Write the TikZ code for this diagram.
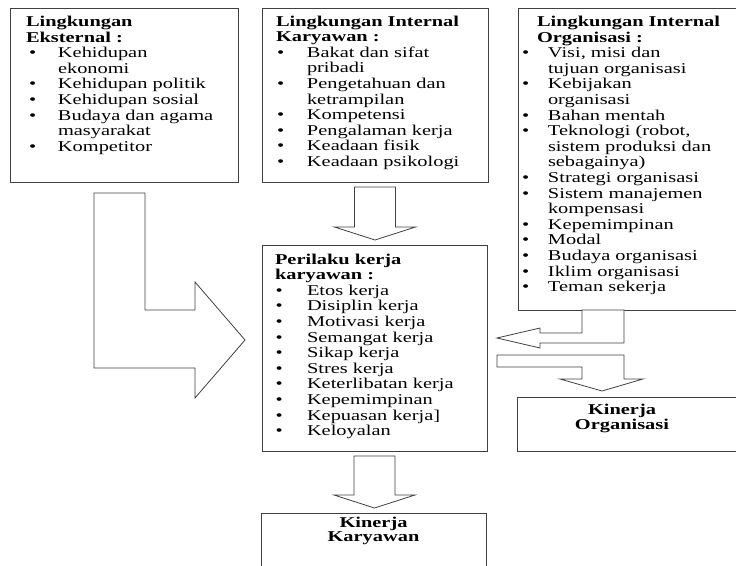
\documentclass[tikz,border=0pt]{standalone}
\usepackage{fontspec}
\setmainfont{Liberation Serif}[FakeStretch=1.36]
\usepackage{tikz}
\usetikzlibrary{positioning,calc}

% jarak judul, titik dan teks butir di dalam kotak
\newlength{\hdx}
\newlength{\bulx}
\newlength{\itx}
\newcommand{\judul}[1]{\mbox{\hspace*{\hdx}\bfseries #1}}
\newcommand{\butir}[1]{\makebox[0pt][l]{\hspace*{\bulx}\textbullet}\mbox{\hspace*{\itx}#1}}
\newcommand{\lanjut}[1]{\mbox{\hspace*{\itx}#1}}
\newcommand{\isikotak}[4][16.5pt]{\begin{minipage}[t][#3][t]{#2}\rule{0pt}{#1}#4\end{minipage}}
% panah blok ke bawah
\newcommand{\panahbawah}[2]{%
  \draw[blokpanah] ($(#1)+(-20.5,5)$) -- ($(#1 |- #2)+(-20.5,-18)$)
    -- ($(#1 |- #2)+(-40.5,-18)$) -- ($(#1 |- #2)+(0,-5)$)
    -- ($(#1 |- #2)+(40.5,-18)$) -- ($(#1 |- #2)+(20.5,-18)$)
    -- ($(#1)+(20.5,5)$) -- cycle;}

\begin{document}
\begin{tikzpicture}[x=1pt,y=-1pt]
        % Style kotak dan panah
        \tikzstyle{kotak} = [
            draw=black!75,
            line width=0.8pt,
            anchor=north west,
            inner sep=0pt,
            outer sep=0pt,
            font=\fontsize{15}{15.6}\selectfont
        ]
        \tikzstyle{blokpanah} = [
            draw=black!75,
            line width=0.8pt,
            fill=white,
            line join=miter
        ]
        \useasboundingbox (0,0) rectangle (736,565);

        % Lingkungan eksternal
        \setlength{\hdx}{16pt}\setlength{\bulx}{19pt}\setlength{\itx}{48pt}
        \node[kotak] (ext) at (10,8) {\isikotak[18.5pt]{228pt}{174pt}{%
            \judul{Lingkungan}\\ \judul{Eksternal :}\\
            \butir{Kehidupan}\\ \lanjut{ekonomi}\\
            \butir{Kehidupan politik}\\
            \butir{Kehidupan sosial}\\
            \butir{Budaya dan agama}\\ \lanjut{masyarakat}\\
            \butir{Kompetitor}}};

        % Lingkungan internal karyawan
        \setlength{\hdx}{14pt}\setlength{\bulx}{15pt}\setlength{\itx}{45pt}
        \node[kotak] (kar) at (262,8) {\isikotak[18pt]{226pt}{174pt}{%
            \judul{Lingkungan Internal}\\ \judul{Karyawan :}\\
            \butir{Bakat dan sifat}\\ \lanjut{pribadi}\\
            \butir{Pengetahuan dan}\\ \lanjut{ketrampilan}\\
            \butir{Kompetensi}\\
            \butir{Pengalaman kerja}\\
            \butir{Keadaan fisik}\\
            \butir{Keadaan psikologi}}};

        % Lingkungan internal organisasi
        \setlength{\hdx}{19pt}\setlength{\bulx}{4pt}\setlength{\itx}{30pt}
        \node[kotak] (org) at (518,8) {\isikotak[18.5pt]{230pt}{302pt}{%
            \judul{Lingkungan Internal}\\ \judul{Organisasi :}\\
            \butir{Visi, misi dan}\\ \lanjut{tujuan organisasi}\\
            \butir{Kebijakan}\\ \lanjut{organisasi}\\
            \butir{Bahan mentah}\\
            \butir{Teknologi (robot,}\\ \lanjut{sistem produksi dan}\\ \lanjut{sebagainya)}\\
            \butir{Strategi organisasi}\\
            \butir{Sistem manajemen}\\ \lanjut{kompensasi}\\
            \butir{Kepemimpinan}\\
            \butir{Modal}\\
            \butir{Budaya organisasi}\\
            \butir{Iklim organisasi}\\
            \butir{Teman sekerja}}};

        % Perilaku kerja karyawan
        \setlength{\hdx}{13pt}\setlength{\bulx}{13.5pt}\setlength{\itx}{45pt}
        \node[kotak] (per) at (262,245) {\isikotak[19pt]{225pt}{206pt}{%
            \judul{Perilaku kerja}\\ \judul{karyawan :}\\
            \butir{Etos kerja}\\
            \butir{Disiplin kerja}\\
            \butir{Motivasi kerja}\\
            \butir{Semangat kerja}\\
            \butir{Sikap kerja}\\
            \butir{Stres kerja}\\
            \butir{Keterlibatan kerja}\\
            \butir{Kepemimpinan}\\
            \butir{Kepuasan kerja]}\\
            \butir{Keloyalan}}};

        % Kinerja
        \node[kotak] (kinorg) at (517,397) {\isikotak[17pt]{230pt}{54pt}{%
            \centering\rightskip=20pt plus 1fil \bfseries Kinerja\\ Organisasi}};
        \node[kotak] (kinkar) at (261,513) {\isikotak[14.5pt]{225pt}{60pt}{%
            \centering\baselineskip=14pt \bfseries Kinerja\\ Karyawan}};

        % Panah blok
        \panahbawah{kar.south}{per.north}
        \panahbawah{per.south}{kinkar.north}
        \draw[blokpanah] ($(ext.south west)+(84,11)$) -- ($(ext.south west)+(135,11)$)
            |- ($(per.west)+(-67,-38)$) -- ($(per.west)+(-67,-66)$) -- ($(per.west)+(-17,-8)$)
            -- ($(per.west)+(-67,50)$) -- ($(per.west)+(-67,20)$) -| ($(ext.south west)+(84,11)$) -- cycle;
        \draw[blokpanah] ($(org.south west)+(64,0)$) |- ($(per.east)+(53,-15)$)
            -- ($(per.east)+(53,-20)$) -- ($(per.east)+(10,-10)$) -- ($(per.east)+(53,0)$)
            -- ($(per.east)+(53,-5)$) -| ($(org.south west)+(106,0)$) -- cycle;
        \draw[blokpanah] ($(per.east)+(10,7)$) -| ($(kinorg.north west)+(107,-18)$)
            -- ($(kinorg.north west)+(126,-18)$) -- ($(kinorg.north west)+(85,-6)$)
            -- ($(kinorg.north west)+(43,-18)$) -- ($(kinorg.north west)+(65,-18)$)
            |- ($(per.east)+(10,19)$) -- cycle;
\end{tikzpicture}
\end{document}
